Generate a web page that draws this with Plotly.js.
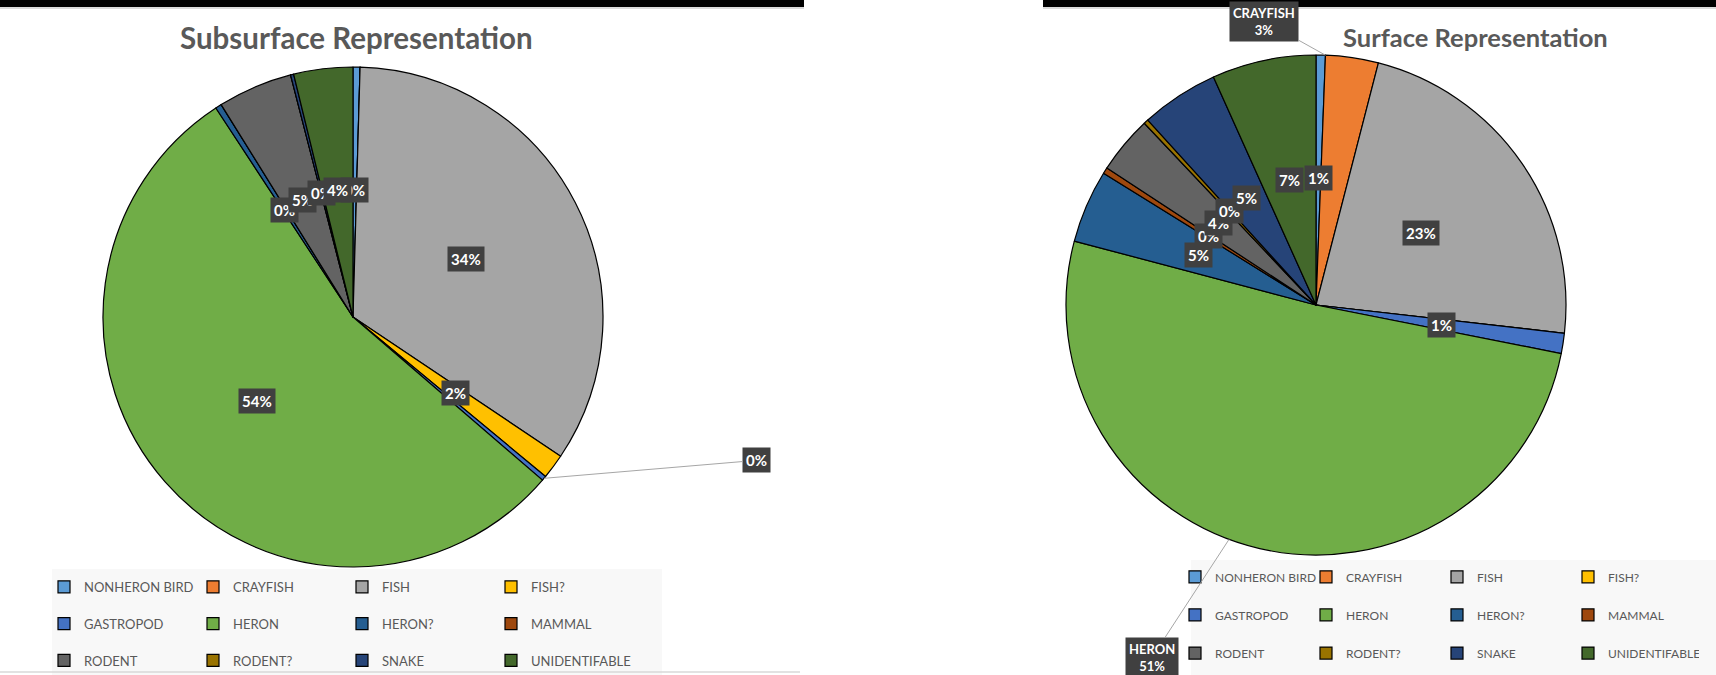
<!DOCTYPE html>
<html>
<head>
<meta charset="utf-8">
<script src="https://cdn.plot.ly/plotly-3.0.1.min.js"></script>
<style>
  body { margin: 0; background: #ffffff; }
  .chart { position: absolute; top: 0; width: 858px; height: 675px; }
  #left { left: 0; }
  #right { left: 858px; }
</style>
</head>
<body>
<div id="left" class="chart"></div>
<div id="right" class="chart"></div>
<script>
// ---------- data ----------
const categories = ['NONHERON BIRD', 'CRAYFISH', 'FISH', 'FISH?', 'GASTROPOD', 'HERON',
                    'HERON?', 'MAMMAL', 'RODENT', 'RODENT?', 'SNAKE', 'UNIDENTIFABLE'];
const subsurfaceValues = [0.45, 0, 33.8, 1.6, 0.3, 54.2, 0.4, 0, 4.8, 0, 0.2, 3.8];
const surfaceValues    = [0.6, 3.4, 22.7, 0, 1.3, 50.8, 4.7, 0.4, 3.7, 0.3, 5.0, 6.7];
const sliceColors = ['#5B9BD5', '#ED7D31', '#A5A5A5', '#FFC000', '#4472C4', '#70AD47',
                     '#255E91', '#9E480E', '#636363', '#997300', '#264478', '#43682B'];
const chartTitles = ['Subsurface Representation', 'Surface Representation'];

// ---------- layout / styling ----------
const H = 675;
const FONT = 'Lato, "Open Sans", sans-serif';

const leftGeom = {
  l: 35, w: 700, divW: 858,
  cx: 353, cy: 317, r: 250,
  titleX: 356, titleY: 37, titleSize: 29.5,
  itemStart: 44, legendTop: 555, legendFont: 13, legendSpan: null, entrywidth: 104, legendBw: 0,
  legendBox: [52, 569, 662, 675],
  topBar: [0, 804],
  bottomLine: [0, 800],
  callouts: { 4: { t: 0.5, ax: 213, ay: -18, name: false } }
};
const rightGeom = {
  l: 150, w: 600, divW: 858,
  cx: 458, cy: 305, r: 250,
  titleX: 617, titleY: 37, titleSize: 25.5,
  itemStart: 317, legendTop: 534, legendFont: 13.5, legendSpan: 12, entrywidth: 86, legendBw: 10,
  legendBox: [333, 560, 858, 675],
  topBar: [185, 858],
  bottomLine: null,
  callouts: {
    1: { t: 0, ax: -61, ay: -34, name: true },
    5: { t: 0.54, ax: -77, ay: 118, name: true }
  }
};

function buildChart(divId, values, title, g) {
  const px2x = px => (px - g.l) / g.w;
  const py2y = py => 1 - py / H;
  const total = values.reduce((a, b) => a + b, 0);

  const legendLabels = categories.map(c =>
    '\u00a0<br>' + (g.legendSpan ? '<span style="font-size:' + g.legendSpan + 'px">' + c + '</span>' : c));

  const trace = {
    type: 'pie',
    labels: legendLabels,
    values: values,
    sort: false,
    direction: 'clockwise',
    rotation: 0,
    marker: { colors: sliceColors, line: { color: '#000000', width: 1.2 } },
    textinfo: 'none',
    hoverinfo: 'skip',
    domain: {
      x: [px2x(g.cx - g.r), px2x(g.cx + g.r)],
      y: [py2y(g.cy + g.r), py2y(g.cy - g.r)]
    }
  };

  const annotations = [];
  annotations.push({
    xref: 'paper', yref: 'paper', x: px2x(g.titleX), y: py2y(g.titleY),
    xanchor: 'center', yanchor: 'middle', showarrow: false, text: title,
    font: { family: FONT, size: g.titleSize, color: '#595959', weight: 'bold' }
  });

  let cum = 0;
  values.forEach((v, i) => {
    const start = cum;
    cum += v;
    if (v <= 0) return;
    const pct = Math.round(100 * v / total) + '%';
    const o = g.callouts[i];
    const base = {
      xref: 'paper', yref: 'paper', bgcolor: '#404040', borderpad: 3,
      font: { family: FONT, size: 15, color: '#ffffff', weight: 'bold' }
    };
    if (o) {
      const a = 2 * Math.PI * (start + o.t * v) / total;
      annotations.push(Object.assign(base, {
        x: px2x(g.cx + g.r * Math.sin(a)), y: py2y(g.cy - g.r * Math.cos(a)),
        text: (o.name ? categories[i] + '<br>' : '') + pct,
        showarrow: true, arrowhead: 0, arrowwidth: 1, arrowcolor: '#a6a6a6',
        standoff: 0, ax: o.ax, ay: o.ay,
        font: { family: FONT, size: o.name ? 13 : 15, color: '#ffffff', weight: 'bold' }
      }));
    } else {
      const a = 2 * Math.PI * (start + v / 2) / total;
      const rr = 0.51 * g.r;
      annotations.push(Object.assign(base, {
        x: px2x(g.cx + rr * Math.sin(a)), y: py2y(g.cy - rr * Math.cos(a)),
        text: pct, showarrow: false, xanchor: 'center', yanchor: 'middle'
      }));
    }
  });

  const shapes = [
    { type: 'rect', xref: 'paper', yref: 'paper', layer: 'below',
      x0: px2x(g.legendBox[0]), x1: px2x(g.legendBox[2]),
      y0: py2y(g.legendBox[3]), y1: py2y(g.legendBox[1]),
      fillcolor: '#f8f8f8', line: { width: 0 } },
    { type: 'rect', xref: 'paper', yref: 'paper',
      x0: px2x(g.topBar[0]), x1: px2x(g.topBar[1]), y0: py2y(7), y1: py2y(0),
      fillcolor: '#000000', line: { width: 0 } },
    { type: 'line', xref: 'paper', yref: 'paper',
      x0: px2x(g.topBar[0]), x1: px2x(g.topBar[1]), y0: py2y(8), y1: py2y(8),
      line: { color: '#cfcfcf', width: 1.5 } }
  ];
  if (g.bottomLine) {
    shapes.push({ type: 'line', xref: 'paper', yref: 'paper',
      x0: px2x(g.bottomLine[0]), x1: px2x(g.bottomLine[1]), y0: py2y(672), y1: py2y(672),
      line: { color: '#d9d9d9', width: 1.5 } });
  }

  const layout = {
    width: g.divW, height: H,
    margin: { l: g.l, r: g.divW - g.l - g.w, t: 0, b: 0, autoexpand: false },
    paper_bgcolor: '#ffffff',
    showlegend: true,
    legend: {
      orientation: 'h', xref: 'paper', yref: 'paper',
      x: px2x(g.itemStart - g.legendBw), xanchor: 'left',
      y: py2y(g.legendTop), yanchor: 'top',
      entrywidth: g.entrywidth, entrywidthmode: 'pixels',
      valign: 'bottom', bgcolor: 'rgba(0,0,0,0)',
      borderwidth: g.legendBw, bordercolor: 'rgba(0,0,0,0)',
      font: { family: FONT, size: g.legendFont, color: '#595959' }
    },
    annotations: annotations,
    shapes: shapes
  };

  Plotly.newPlot(divId, [trace], layout, { displayModeBar: false, staticPlot: true });
}

buildChart('left', subsurfaceValues, chartTitles[0], leftGeom);
buildChart('right', surfaceValues, chartTitles[1], rightGeom);
</script>
</body>
</html>
